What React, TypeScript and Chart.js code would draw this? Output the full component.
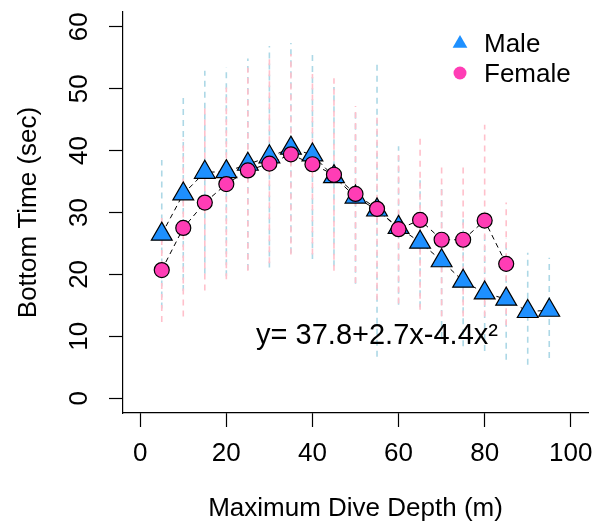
import React, { useEffect, useRef } from 'react';
import { Chart, registerables } from 'chart.js';

Chart.register(...registerables);

// ---------- data ----------
const MALE_DEPTH = [5, 10, 15, 20, 25, 30, 35, 40, 45, 50, 55, 60, 65, 70, 75, 80, 85, 90, 95];
const MALE_MEAN = [26.5, 33.0, 36.5, 36.6, 37.8, 39.0, 40.4, 39.3, 35.8, 32.5, 30.4, 27.6, 25.2, 22.2, 18.9, 17.0, 16.0, 14.0, 14.2];
const MALE_LOW = [14.5, 17.3, 20.1, 19.7, 20.7, 21.1, 23.4, 22.5, 21.3, 18.5, 6.7, 15.1, 14.7, 9.7, 8.4, 7.6, 6.2, 5.4, 6.5];
const MALE_HIGH = [38.5, 48.7, 52.9, 53.5, 54.9, 56.9, 57.4, 56.1, 50.3, 46.5, 54.5, 40.7, 35.7, 34.7, 29.4, 26.4, 25.8, 23.5, 22.7];

const FEMALE_DEPTH = [5, 10, 15, 20, 25, 30, 35, 40, 45, 50, 55, 60, 65, 70, 75, 80, 85];
const FEMALE_MEAN = [20.7, 27.5, 31.6, 34.6, 36.8, 37.9, 39.4, 37.8, 36.1, 33.0, 30.6, 27.3, 28.8, 25.6, 25.6, 28.7, 21.7];
const FEMALE_LOW = [12.3, 13.2, 17.4, 19.2, 20.6, 21.8, 23.2, 23.2, 20.6, 18.6, 15.9, 15.3, 14.3, 13.2, 13.2, 13.2, 11.8];
const FEMALE_HIGH = [29.1, 41.8, 46.8, 50.2, 53.4, 55.0, 55.6, 52.4, 51.7, 47.2, 45.3, 39.3, 42.6, 38.0, 38.0, 44.2, 31.6];

const X_TICKS = [0, 20, 40, 60, 80, 100];
const Y_TICKS = [0, 10, 20, 30, 40, 50, 60];
const X_RANGE = [-4, 104];
const Y_RANGE = [-2.4, 62.4];

const SERIES_NAMES = ['Male', 'Female'];
const X_TITLE = 'Maximum Dive Depth (m)';
const Y_TITLE = 'Bottom Time (sec)';
const EQUATION = 'y= 37.8+2.7x-4.4x\u00B2';
const EQUATION_AT = [55, 10];

// ---------- styles ----------
const FONT = "'Liberation Sans', Arial, Helvetica, sans-serif";
const MALE_COLOR = '#1E90FF';
const FEMALE_COLOR = '#FF3DB5';
const MALE_BAR = '#ADD8E6';
const FEMALE_BAR = '#FFC0CB';

function toPoints(xs: number[], ys: number[]) {
  return xs.map((x, i) => ({ x, y: ys[i] }));
}

function toBars(xs: number[], lo: number[], hi: number[]) {
  const out: { x: number; y: number | null }[] = [];
  xs.forEach((x, i) => {
    out.push({ x, y: lo[i] }, { x, y: hi[i] }, { x, y: null });
  });
  return out;
}

const overlayPlugin = {
  id: 'overlay',
  afterDatasetsDraw(chart: any) {
    const { ctx, chartArea, scales } = chart;
    ctx.save();
    ctx.fillStyle = '#000';
    ctx.font = `29px ${FONT}`;
    ctx.textAlign = 'center';
    ctx.textBaseline = 'middle';
    ctx.fillText(
      EQUATION,
      scales.x.getPixelForValue(EQUATION_AT[0]),
      scales.y.getPixelForValue(EQUATION_AT[1])
    );

    const mx = chartArea.right - 128;
    const tx = chartArea.right - 104;
    const y1 = chartArea.top + 31.5;
    const y2 = chartArea.top + 61;
    const r = 8.5;
    ctx.fillStyle = MALE_COLOR;
    ctx.beginPath();
    ctx.moveTo(mx, y1 - r);
    ctx.lineTo(mx + r * Math.sin((2 * Math.PI) / 3), y1 - r * Math.cos((2 * Math.PI) / 3));
    ctx.lineTo(mx + r * Math.sin((4 * Math.PI) / 3), y1 - r * Math.cos((4 * Math.PI) / 3));
    ctx.closePath();
    ctx.fill();
    ctx.fillStyle = FEMALE_COLOR;
    ctx.beginPath();
    ctx.arc(mx, y2, 6.5, 0, Math.PI * 2);
    ctx.fill();
    ctx.fillStyle = '#000';
    ctx.font = `26px ${FONT}`;
    ctx.textAlign = 'left';
    ctx.textBaseline = 'middle';
    ctx.fillText(SERIES_NAMES[0], tx, y1 + 1);
    ctx.fillText(SERIES_NAMES[1], tx, y2 + 2);
    ctx.restore();
  },
};

export default function App() {
  const canvasRef = useRef<HTMLCanvasElement | null>(null);

  useEffect(() => {
    const canvas = canvasRef.current;
    if (!canvas) return;

    const tickFont = { family: FONT, size: 26 };

    const chart = new Chart(canvas, {
      type: 'scatter',
      data: {
        datasets: [
          {
            label: 'Male range',
            data: toBars(MALE_DEPTH, MALE_LOW, MALE_HIGH),
            showLine: true,
            spanGaps: false,
            borderColor: MALE_BAR,
            borderWidth: 1.6,
            borderDash: [6, 5],
            pointRadius: 0,
            order: 5,
          },
          {
            label: 'Female range',
            data: toBars(FEMALE_DEPTH, FEMALE_LOW, FEMALE_HIGH),
            showLine: true,
            spanGaps: false,
            borderColor: FEMALE_BAR,
            borderWidth: 1.6,
            borderDash: [6, 5],
            pointRadius: 0,
            order: 4,
          },
          {
            label: 'Male line',
            data: toPoints(MALE_DEPTH, MALE_MEAN),
            showLine: true,
            borderColor: '#000',
            borderWidth: 1,
            borderDash: [5, 4],
            pointRadius: 0,
            order: 3,
          },
          {
            label: 'Female line',
            data: toPoints(FEMALE_DEPTH, FEMALE_MEAN),
            showLine: true,
            borderColor: '#000',
            borderWidth: 1,
            borderDash: [5, 4],
            pointRadius: 0,
            order: 2,
          },
          {
            label: SERIES_NAMES[0],
            data: toPoints(MALE_DEPTH, MALE_MEAN),
            showLine: false,
            pointStyle: 'triangle',
            pointRadius: 12,
            backgroundColor: MALE_COLOR,
            borderColor: '#000',
            borderWidth: 1.2,
            order: 1,
          },
          {
            label: SERIES_NAMES[1],
            data: toPoints(FEMALE_DEPTH, FEMALE_MEAN),
            showLine: false,
            pointStyle: 'circle',
            pointRadius: 7.5,
            backgroundColor: FEMALE_COLOR,
            borderColor: '#000',
            borderWidth: 1.2,
            order: 0,
          },
        ],
      },
      options: {
        animation: false,
        responsive: false,
        devicePixelRatio: 1,
        events: [],
        layout: { autoPadding: false, padding: { top: 12, right: 5, bottom: 0, left: 0 } },
        plugins: {
          legend: { display: false },
          tooltip: { enabled: false },
        },
        scales: {
          x: {
            type: 'linear',
            min: X_RANGE[0],
            max: X_RANGE[1],
            afterBuildTicks: (s: any) => {
              s.ticks = X_TICKS.map((v) => ({ value: v }));
            },
            afterFit: (s: any) => {
              s.height = 114;
              s.paddingLeft = 0;
              s.paddingRight = 0;
            },
            grid: {
              display: true,
              drawOnChartArea: false,
              drawTicks: true,
              tickLength: 14,
              tickColor: '#000',
              tickWidth: 1.2,
              color: '#000',
            },
            border: { display: true, color: '#000', width: 1.2 },
            ticks: {
              color: '#000',
              font: { family: FONT, size: 26, lineHeight: 2.05 },
              padding: 0,
              autoSkip: false,
              minRotation: 0,
              maxRotation: 0,
              callback: (v: any) => String(v),
            },
            title: {
              display: true,
              text: X_TITLE,
              color: '#000',
              font: tickFont,
              padding: { top: 0, bottom: 3 },
            },
          },
          y: {
            type: 'linear',
            min: Y_RANGE[0],
            max: Y_RANGE[1],
            afterBuildTicks: (s: any) => {
              s.ticks = Y_TICKS.map((v) => ({ value: v }));
            },
            afterFit: (s: any) => {
              s.width = 123;
              s.paddingTop = 0;
              s.paddingBottom = 0;
            },
            grid: {
              display: true,
              drawOnChartArea: false,
              drawTicks: true,
              tickLength: 14,
              tickColor: '#000',
              tickWidth: 1.2,
              color: '#000',
            },
            border: { display: true, color: '#000', width: 1.2 },
            ticks: {
              color: '#000',
              font: tickFont,
              padding: 14.5,
              crossAlign: 'center',
              autoSkip: false,
              minRotation: 90,
              maxRotation: 90,
              callback: (v: any) => String(v),
            },
            title: {
              display: true,
              text: Y_TITLE,
              color: '#000',
              font: tickFont,
              padding: { top: 13, bottom: 0 },
            },
          },
        },
      },
      plugins: [overlayPlugin],
    } as any);

    return () => chart.destroy();
  }, []);

  return (
    <div style={{ position: 'fixed', left: 0, top: 0, width: 593, height: 527, background: '#fff' }}>
      <canvas ref={canvasRef} width={593} height={527} style={{ display: 'block' }} />
    </div>
  );
}
